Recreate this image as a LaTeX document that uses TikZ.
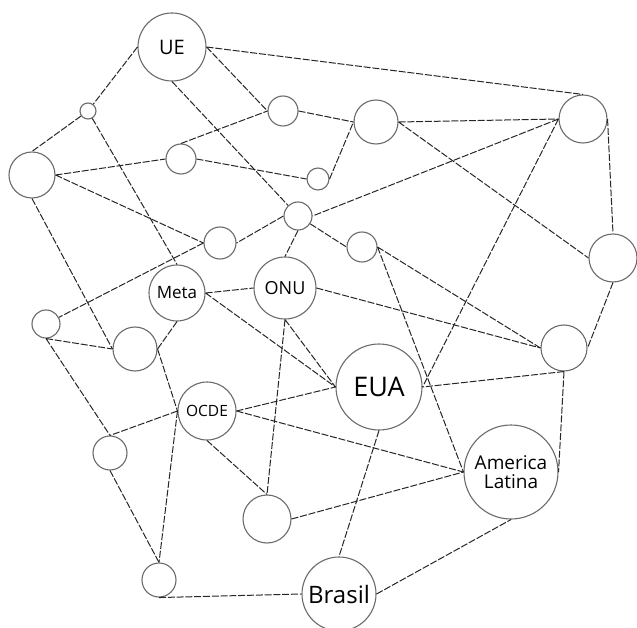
\documentclass[tikz,border=0pt]{standalone}
\usepackage{fontspec}
\setmainfont{Open Sans}
\usepackage{xcolor}
\usepackage{tikz}
\definecolor{ringgray}{rgb}{0.42,0.42,0.42}
\definecolor{linkgray}{rgb}{0.15,0.15,0.15}

\begin{document}
\begin{tikzpicture}[x=1pt, y=-1pt,
      hub/.style={draw=ringgray, fill=white, circle, line width=1.1pt,
                  inner sep=0pt, font=\fontsize{17}{20}\selectfont, align=center},
      lnk/.style={draw=linkgray, line width=1pt, dash pattern=on 7pt off 1.8pt}
  ]
    \useasboundingbox (0,0) rectangle (637,628);
    % actors
    \node[hub, minimum size=68pt, font=\fontsize{20}{23}\selectfont] (ue) at (172,47) {UE};
    \node[hub, minimum size=56pt] (meta) at (177,293) {Meta};
    \node[hub, minimum size=62pt, font=\fontsize{18}{21}\selectfont] (onu) at (285,288) {ONU};
    \node[hub, minimum size=86pt, font=\fontsize{27}{30}\selectfont] (eua) at (379,387) {EUA};
    \node[hub, minimum size=58pt, font=\fontsize{15.5}{18}\selectfont] (ocde) at (207,411) {OCDE};
    \node[hub, minimum size=94pt, font=\fontsize{19}{22}\selectfont] (al) at (511,472) {America\\[-3pt]Latina};
    \node[hub, minimum size=74pt, font=\fontsize{24}{27}\selectfont] (br) at (339,594) {Brasil};
    % empty circles
    \node[hub, minimum size=16pt] (sa) at (88,111) {};
    \node[hub, minimum size=46pt] (wl) at (32,175) {};
    \node[hub, minimum size=30pt] (na) at (181,159) {};
    \node[hub, minimum size=30pt] (nb) at (283,111) {};
    \node[hub, minimum size=22pt] (sc) at (318,179) {};
    \node[hub, minimum size=44pt] (nc) at (376,122) {};
    \node[hub, minimum size=48pt] (ne) at (583,119) {};
    \node[hub, minimum size=48pt] (ee) at (613,258) {};
    \node[hub, minimum size=28pt] (nd) at (298,216) {};
    \node[hub, minimum size=32pt] (nf) at (220,243) {};
    \node[hub, minimum size=30pt] (ng) at (362,247) {};
    \node[hub, minimum size=28pt] (nh) at (46,324) {};
    \node[hub, minimum size=44pt] (ni) at (135,349) {};
    \node[hub, minimum size=46pt] (nj) at (564,348) {};
    \node[hub, minimum size=34pt] (nk) at (110,453) {};
    \node[hub, minimum size=48pt] (nl) at (267,519) {};
    \node[hub, minimum size=34pt] (nm) at (159,580) {};
    % links
    \draw[lnk] (ue.west)--(sa) (ue.east)--(ne.north) (ue.east)--(nb.west) (ue.south)--(nd);
    \draw[lnk] (sa)--(wl.north) (sa)--(meta.north);
    \draw[lnk] (wl.east)--(na.west) (wl.east)--(nf.west) (wl.south)--(ni.west);
    \draw[lnk] (na.north)--(nb.west) (na.east)--(sc.west) (nb.east)--(nc.west) (sc.east)--(nc.west);
    \draw[lnk] (nc.east)--(ne.west) (nc.east)--(ee.west);
    \draw[lnk] (ne.west)--(nd.east) (ne.west)--(eua.east) (ne.east)--(ee.north) (ee.south)--(nj.east);
    \draw[lnk] (nd.west)--(nf.east) (nd)--(ng.west) (nd.south)--(onu.north) (nf.west)--(nh);
    \draw[lnk] (ng.east)--(nj.west) (ng.east)--(al.west);
    \draw[lnk] (meta.east)--(onu.west) (meta.east)--(eua.west) (meta.south)--(ni.east);
    \draw[lnk] (onu.east)--(nj.west) (onu.south)--(eua.west) (onu.south)--(nl.north);
    \draw[lnk] (nh.south)--(ni.west) (nh.south)--(nk.north) (ni.east)--(ocde.west);
    \draw[lnk] (ocde.west)--(nk.north) (ocde.west)--(nm.north) (ocde.east)--(eua.west)
               (ocde.east)--(al.west) (ocde.south)--(nl.north);
    \draw[lnk] (nk.south)--(nm.north) (nm.south)--(br.west);
    \draw[lnk] (nj.south)--(eua.east) (nj.south)--(al.east) (nl.east)--(al.west);
    \draw[lnk] (eua.south)--(br.north) (br.east)--(al.south);
  \end{tikzpicture}
\end{document}
